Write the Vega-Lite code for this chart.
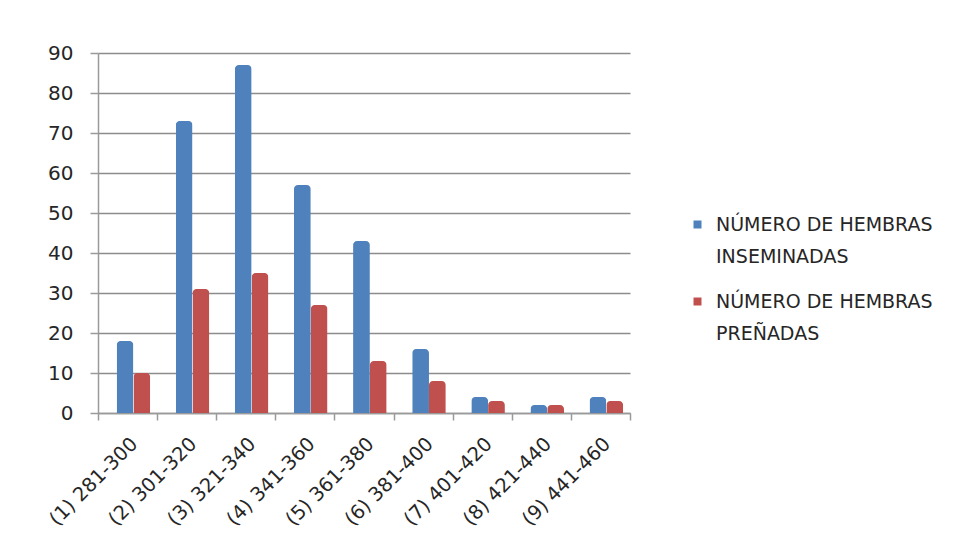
{
  "$schema": "https://vega.github.io/schema/vega-lite/v6.json",
  "autosize": "none",
  "width": 532,
  "height": 360,
  "padding": {"left": 98, "top": 53, "right": 343, "bottom": 136},
  "background": "white",
  "data": {
    "values": [
      {"grupo": "(1) 281-300", "serie": "A", "valor": 18},
      {"grupo": "(1) 281-300", "serie": "B", "valor": 10},
      {"grupo": "(2) 301-320", "serie": "A", "valor": 73},
      {"grupo": "(2) 301-320", "serie": "B", "valor": 31},
      {"grupo": "(3) 321-340", "serie": "A", "valor": 87},
      {"grupo": "(3) 321-340", "serie": "B", "valor": 35},
      {"grupo": "(4) 341-360", "serie": "A", "valor": 57},
      {"grupo": "(4) 341-360", "serie": "B", "valor": 27},
      {"grupo": "(5) 361-380", "serie": "A", "valor": 43},
      {"grupo": "(5) 361-380", "serie": "B", "valor": 13},
      {"grupo": "(6) 381-400", "serie": "A", "valor": 16},
      {"grupo": "(6) 381-400", "serie": "B", "valor": 8},
      {"grupo": "(7) 401-420", "serie": "A", "valor": 4},
      {"grupo": "(7) 401-420", "serie": "B", "valor": 3},
      {"grupo": "(8) 421-440", "serie": "A", "valor": 2},
      {"grupo": "(8) 421-440", "serie": "B", "valor": 2},
      {"grupo": "(9) 441-460", "serie": "A", "valor": 4},
      {"grupo": "(9) 441-460", "serie": "B", "valor": 3}
    ]
  },
  "mark": {"type": "bar", "cornerRadiusTopLeft": 4, "cornerRadiusTopRight": 4},
  "encoding": {
    "x": {
      "field": "grupo",
      "type": "nominal",
      "sort": null,
      "title": null,
      "scale": {"paddingInner": 0, "paddingOuter": 0},
      "axis": {
        "labelAngle": -45,
        "labelFont": "DejaVu Sans",
        "labelFontSize": 19.5,
        "labelColor": "#262626",
        "domainColor": "#9a9a9a",
        "domainWidth": 1.5,
        "tickColor": "#9a9a9a",
        "tickWidth": 1.5,
        "tickSize": 7,
        "tickBand": "extent",
        "labelPadding": 14,
        "grid": false
      }
    },
    "xOffset": {
      "field": "serie",
      "type": "nominal",
      "scale": {"paddingInner": 0, "paddingOuter": 0.76, "align": 0.73}
    },
    "y": {
      "field": "valor",
      "type": "quantitative",
      "title": null,
      "scale": {"domain": [0, 90], "nice": false},
      "axis": {
        "values": [0, 10, 20, 30, 40, 50, 60, 70, 80, 90],
        "labelFont": "DejaVu Sans",
        "labelFontSize": 20,
        "labelColor": "#262626",
        "labelPadding": 17,
        "domainColor": "#9a9a9a",
        "domainWidth": 1.5,
        "tickColor": "#9a9a9a",
        "tickWidth": 1.5,
        "tickSize": 8,
        "gridColor": "#8c8c8c",
        "gridWidth": 1.5
      }
    },
    "color": {
      "field": "serie",
      "type": "nominal",
      "scale": {"domain": ["A", "B"], "range": ["#4F81BD", "#C0504D"]},
      "legend": {
        "title": null,
        "orient": "none",
        "legendX": 590,
        "legendY": 162,
        "symbolType": "square",
        "symbolSize": 64,
        "symbolStrokeWidth": 0,
        "labelFont": "DejaVu Sans",
        "labelFontSize": 19,
        "labelColor": "#262626",
        "labelLimit": 300,
        "rowPadding": 25,
        "labelOffset": 9,
        "labelExpr": "datum.value == 'A' ? ['NÚMERO DE HEMBRAS', 'INSEMINADAS'] : ['NÚMERO DE HEMBRAS', 'PREÑADAS']",
        "encode": {"labels": {"update": {"lineHeight": {"value": 32}}}}
      }
    }
  },
  "config": {"view": {"stroke": null}}
}
